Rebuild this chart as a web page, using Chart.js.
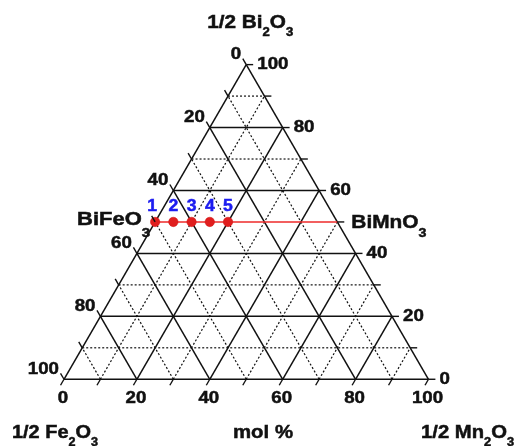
<!DOCTYPE html>
<html>
<head>
<meta charset="utf-8">
<script src="https://cdn.jsdelivr.net/npm/chart.js@4.4.1/dist/chart.umd.min.js"></script>
<style>
  html, body { margin: 0; padding: 0; background: #fff; }
  #wrap { width: 515px; height: 446px; }
</style>
</head>
<body>
<div id="wrap"><canvas id="c" width="515" height="446"></canvas></div>
<script>
// Ternary diagram 1/2 Bi2O3 – 1/2 Fe2O3 – 1/2 Mn2O3 (mol %)
const tickValues = [0, 20, 40, 60, 80, 100];
const gridSteps = [10, 20, 30, 40, 50, 60, 70, 80, 90];
const minorTicks = [0, 10, 20, 30, 40, 50, 60, 70, 80, 90, 100];

// Samples on the BiFeO3 – BiMnO3 join (mol %)
const sampleLabels = ['1', '2', '3', '4', '5'];
const sampleBi = [50, 50, 50, 50, 50];
const sampleMn = [0, 5, 10, 15, 20];
const sampleFe = [50, 45, 40, 35, 30];

// Join line BiFeO3 -> BiMnO3
const joinBi = [50, 50];
const joinMn = [0, 50];

const FONT = '"Liberation Sans", Arial, Helvetica, sans-serif';
const H = Math.sqrt(3) / 2;
const WIDE = 1.1; // horizontal stretch of the lettering

// composition (Bi, Mn) -> cartesian
function tp(bi, mn) { return { x: mn + bi / 2, y: bi * H }; }

const datasets = [];

// samples
datasets.push({
  type: 'scatter',
  data: sampleBi.map((b, i) => tp(b, sampleMn[i])),
  pointRadius: 4.7,
  pointBackgroundColor: '#e01e1e',
  pointBorderColor: '#d01010',
  pointBorderWidth: 0.5,
  showLine: false,
  order: 0,
  clip: false
});

// join line
datasets.push({
  type: 'line',
  data: joinBi.map((b, i) => tp(b, joinMn[i])),
  borderColor: '#ee2a2a',
  borderWidth: 1.6,
  pointRadius: 0,
  order: 1,
  clip: false
});

function seg(a, b, dotted) {
  datasets.push({
    type: 'line',
    data: [a, b],
    borderColor: '#111',
    borderWidth: dotted ? 1.2 : 1.5,
    borderDash: dotted ? [2, 2] : [],
    pointRadius: 0,
    order: 2,
    clip: false
  });
}

// triangle edges
seg(tp(0, 0), tp(0, 100), false);   // Bi = 0
seg(tp(0, 0), tp(100, 0), false);   // Mn = 0
seg(tp(0, 100), tp(100, 0), false); // Fe = 0

// grid lines
gridSteps.forEach(v => {
  const dotted = v % 20 !== 0;
  if (v !== 50) seg(tp(v, 0), tp(v, 100 - v), dotted);      // constant Bi
  seg(tp(0, v), tp(100 - v, v), dotted);                     // constant Mn
  seg(tp(0, 100 - v), tp(100 - v, 0), dotted);               // constant Fe
});

// fill plus a thin outline so the bold face reads heavier
function ink(ctx, s, x, y) {
  ctx.fillText(s, x, y);
  ctx.strokeText(s, x, y);
}

// single-line text, stretched horizontally
function drawText(ctx, s, x, y, align, size, base) {
  ctx.save();
  ctx.font = 'bold ' + size + 'px ' + FONT;
  ctx.textAlign = align;
  ctx.textBaseline = base || 'alphabetic';
  ctx.strokeStyle = ctx.fillStyle;
  ctx.lineWidth = 0.5;
  ctx.translate(x, y);
  ctx.scale(WIDE, 1);
  ink(ctx, s, 0, 0);
  ctx.restore();
}

// text with subscripts, fitted to a given width
function drawRich(ctx, parts, x, y, align, width, size, subSize, subDrop) {
  let w = 0;
  parts.forEach(p => {
    ctx.font = 'bold ' + (p[1] ? subSize : size) + 'px ' + FONT;
    w += ctx.measureText(p[0]).width;
  });
  const k = width / w;
  const x0 = align === 'left' ? x : align === 'right' ? x - width : x - width / 2;
  ctx.save();
  ctx.translate(x0, y);
  ctx.scale(k, 1);
  ctx.textAlign = 'left';
  ctx.textBaseline = 'alphabetic';
  ctx.strokeStyle = ctx.fillStyle;
  ctx.lineWidth = 0.5;
  let cx = 0;
  parts.forEach(p => {
    ctx.font = 'bold ' + (p[1] ? subSize : size) + 'px ' + FONT;
    ink(ctx, p[0], cx, p[1] ? subDrop : 0);
    cx += ctx.measureText(p[0]).width;
  });
  ctx.restore();
}

const ternaryDecor = {
  id: 'ternaryDecor',
  afterDatasetsDraw(chart) {
    const ctx = chart.ctx;
    const sx = chart.scales.x, sy = chart.scales.y;
    const px = p => ({ x: sx.getPixelForValue(p.x), y: sy.getPixelForValue(p.y) });
    const t = 1.9;
    ctx.save();
    ctx.strokeStyle = '#111';
    ctx.lineWidth = 1.4;
    const line = (a, b) => { const A = px(a), B = px(b); ctx.beginPath(); ctx.moveTo(A.x, A.y); ctx.lineTo(B.x, B.y); ctx.stroke(); };
    minorTicks.forEach(v => {
      line(tp(0, v), tp(-t, v));                    // base: Mn
      line(tp(100 - v, 0), tp(100 - v + t, -t));    // left: Fe
      line(tp(v, 100 - v), tp(v, 100 - v + t));     // right: Bi
    });

    ctx.fillStyle = '#111';
    tickValues.forEach(v => {
      let p = px(tp(0, v));
      drawText(ctx, String(v), p.x - 1, p.y + 19, 'center', 17, 'middle');
      p = px(tp(100 - v, 0));
      drawText(ctx, String(v), p.x - 5, p.y - 10, 'right', 17, 'middle');
      p = px(tp(v, 100 - v));
      drawText(ctx, String(v), p.x + 11, p.y, 'left', 17, 'middle');
    });

    // sample numbers
    ctx.fillStyle = '#1c1cf0';
    sampleLabels.forEach((s, i) => {
      const p = px(tp(sampleBi[i], sampleMn[i]));
      drawText(ctx, s, p.x - (i === 0 ? 3 : 0), p.y - 11, 'center', 16);
    });

    // component and phase names
    ctx.fillStyle = '#111';
    const apex = px(tp(100, 0));
    drawRich(ctx, [['1/2 Bi', false], ['2', true], ['O', false], ['3', true]], apex.x + 4, 28, 'center', 86, 19, 12, 8);
    const fe = px(tp(joinBi[0], joinMn[0]));
    drawRich(ctx, [['BiFeO', false], ['3', true]], fe.x - 5, fe.y + 3, 'right', 73, 19, 13, 12);
    const mn = px(tp(joinBi[1], joinMn[1]));
    drawRich(ctx, [['BiMnO', false], ['3', true]], mn.x + 14, mn.y + 6, 'left', 75, 19, 13, 9);
    drawRich(ctx, [['1/2 Fe', false], ['2', true], ['O', false], ['3', true]], 12, 438, 'left', 86, 19, 12, 8);
    drawRich(ctx, [['mol %', false]], 263, 438, 'center', 60, 19, 12, 8);
    drawRich(ctx, [['1/2 Mn', false], ['2', true], ['O', false], ['3', true]], 421, 438, 'left', 93, 19, 12, 8);
    ctx.restore();
  }
};

const PX = 3.72; // pixels per mol % along an edge
new Chart(document.getElementById('c'), {
  type: 'scatter',
  data: { datasets },
  options: {
    responsive: false,
    animation: false,
    layout: { padding: 0 },
    plugins: { legend: { display: false }, tooltip: { enabled: false }, title: { display: false } },
    scales: {
      x: { type: 'linear', display: false, min: -60 / PX, max: 455 / PX },
      y: { type: 'linear', display: false, min: -63 / PX, max: 383 / PX }
    }
  },
  plugins: [ternaryDecor]
});
</script>
</body>
</html>
